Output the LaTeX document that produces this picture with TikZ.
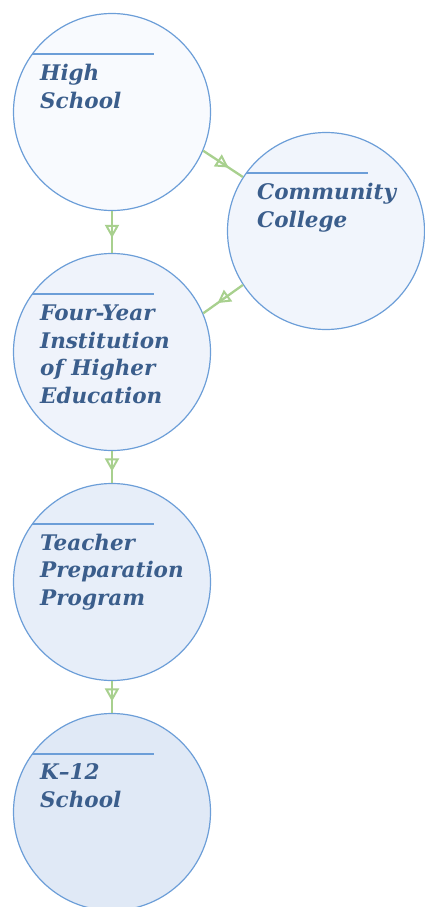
\documentclass[tikz,border=0pt]{standalone}
\usepackage{fontspec}
\setmainfont{DejaVu Serif}
\usetikzlibrary{arrows.meta,decorations.markings}
\definecolor{ringc}{RGB}{108,158,216}
\definecolor{txtc}{RGB}{59,94,140}
\definecolor{arrc}{RGB}{168,208,142}
\definecolor{f1}{RGB}{248,250,254}
\definecolor{f2}{RGB}{241,245,252}
\definecolor{f3}{RGB}{239,243,251}
\definecolor{f4}{RGB}{231,238,249}
\definecolor{f5}{RGB}{224,233,246}
\tikzset{
  stage/.style={circle, draw=ringc, line width=1.2pt, minimum size=197pt, inner sep=0pt},
  lbl/.style={anchor=base west, inner sep=0pt, text=txtc, font=\fontsize{21.5}{27.5}\selectfont\bfseries\itshape, align=left},
  rule/.style={draw=ringc, line width=1.2pt},
  flow/.style={draw=arrc, line width=2.3pt, postaction={decorate},
    decoration={markings, mark=at position 0.64 with {\arrow{Triangle[open, length=13pt, width=14pt, line width=2pt]}}}}
}
\begin{document}
\begin{tikzpicture}[x=1pt,y=-1pt]
\useasboundingbox (0,0) rectangle (424,907);
\node[stage, fill=f1] (hs) at (112,112) {};
\node[stage, fill=f2] (cc) at (326,231) {};
\node[stage, fill=f3] (fy) at (112,352) {};
\node[stage, fill=f4] (tp) at (112,582) {};
\node[stage, fill=f5] (k12) at (112,812) {};
% rules
\foreach \n/\cx/\cy in {hs/112/112, cc/326/231, fy/112/352, tp/112/582, k12/112/812}{
  \coordinate (\n-rl) at (\cx-80,\cy-58);
  \coordinate (\n-rr) at (\cx+42,\cy-58);
  \draw[rule] (\n-rl) -- (\n-rr);
}
% labels (anchored at the baseline of the last line)
\node[lbl] (hs-t) at (40,108) {High\\School};
\node[lbl] (cc-t) at (257,227) {Community\\College};
\node[lbl] (fy-t) at (40,403) {Four-Year\\Institution\\of Higher\\Education};
\node[lbl] (tp-t) at (40,605) {Teacher\\Preparation\\Program};
\node[lbl] (k12-t) at (40,807) {K–12\\School};
% connectors
\draw[flow] (hs.-23) -- (cc.147);
\draw[flow] (cc.213) -- (fy.23);
\draw[flow] (hs.south) -- (fy.north);
\draw[flow] (fy.south) -- (tp.north);
\draw[flow] (tp.south) -- (k12.north);
\end{tikzpicture}
\end{document}
